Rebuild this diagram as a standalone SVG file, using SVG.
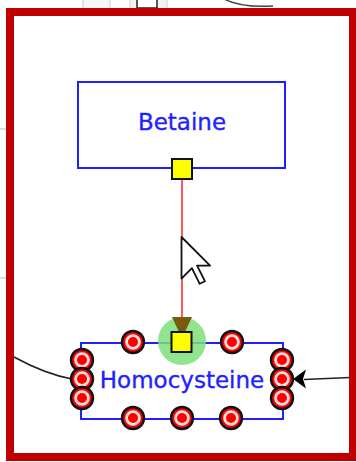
<svg xmlns="http://www.w3.org/2000/svg" width="356" height="462" viewBox="0 0 356 462">
<defs>
<style>
.node{fill:#fff;stroke:#1f1fff;stroke-width:2}
.lbl{font-family:"DejaVu Sans",sans-serif;font-size:23px;fill:#1f1fff;stroke:#1f1fff;stroke-width:0.35;text-anchor:middle}
.port{fill:#ff0000;stroke:#111;stroke-width:2.4}
.ring{fill:none;stroke:#ffdede;stroke-width:2.8}
.dot{fill:#ff0000}
.anchor{fill:#ffff00;stroke:#111;stroke-width:2}
.edge{fill:none;stroke:#222;stroke-width:1.6}
</style>
<g id="p">
<circle class="port" r="11"/>
<circle class="ring" r="6.4"/>
<circle class="dot" r="3.4"/>
</g>
</defs>
<rect width="356" height="462" fill="#fff"/>
<g id="background">
<rect x="83" y="-4" width="27" height="14" fill="#f7f7f7" stroke="#ccc"/>
<rect x="130" y="-4" width="37" height="14" fill="#f2f2f2" stroke="#ccc"/>
<rect x="137" y="-6" width="20" height="14" fill="#fff" stroke="#222" stroke-width="1.5"/>
<path d="M222,-2 Q240,8 273,6" fill="none" stroke="#444" stroke-width="1.5"/>
<line x1="0" y1="129" x2="6" y2="129" stroke="#bbb"/>
<line x1="0" y1="278" x2="6" y2="278" stroke="#bbb"/>
</g>
<g id="connectors">
<path class="edge" d="M14,357 Q45,374 72,379"/>
<path class="edge" d="M350,377.5 L304,379.5"/>
<polygon points="293,379 306,369.5 303,379 306,388.5" fill="#000"/>
<line x1="182" y1="180" x2="182" y2="318" stroke="#ff3030" stroke-width="1.6"/>
</g>
<g id="betaine">
<rect class="node" x="78" y="82" width="207" height="86"/>
<text class="lbl" x="182" y="130">Betaine</text>
<rect class="anchor" x="172" y="159" width="20" height="20"/>
</g>
<g id="homocysteine">
<rect class="node" x="81" y="343" width="202" height="76" stroke-width="1.8"/>
<circle cx="182" cy="341" r="24" fill="#7de07a" opacity="0.85"/>
<polygon points="172,317 192,317 185,332 179,332" fill="#7a5a10"/>
<text class="lbl" x="182" y="388">Homocysteine</text>
<use href="#p" x="133" y="342"/>
<use href="#p" x="232" y="342"/>
<use href="#p" x="133" y="418"/>
<use href="#p" x="182" y="418"/>
<use href="#p" x="231" y="418"/>
<use href="#p" x="82" y="360"/>
<use href="#p" x="82" y="379"/>
<use href="#p" x="82" y="398"/>
<use href="#p" x="282" y="360"/>
<use href="#p" x="282" y="379"/>
<use href="#p" x="282" y="398"/>
<rect class="anchor" x="171.5" y="332" width="20" height="20"/>
</g>
<g id="cursor">
<polygon points="181.5,237 181.5,278.6 191.9,268.2 199.7,283.8 204.9,281.2 197.1,265.6 210.1,265.6" fill="#fff" stroke="#111" stroke-width="1.8" stroke-linejoin="round"/>
</g>
<rect id="frame" x="10" y="12" width="343" height="445" fill="none" stroke="#c00000" stroke-width="8"/>
</svg>
